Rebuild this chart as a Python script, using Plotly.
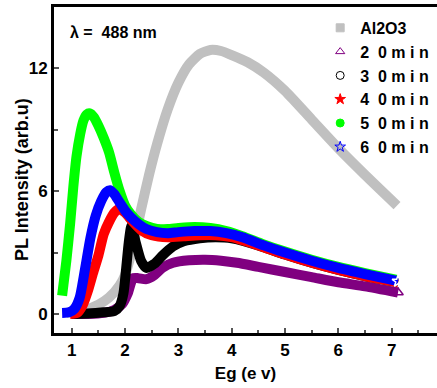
import plotly.graph_objects as go

# ---- data ----
al_x = [0.9, 1.2, 1.5, 1.7, 1.9, 2.0, 2.1, 2.2, 2.3, 2.45, 2.6, 2.8, 3.0, 3.2, 3.4, 3.6, 3.8, 4.0, 4.3, 4.6, 5.0, 5.5, 6.0, 6.5, 7.1]
al_y = [0.05, 0.15, 0.45, 0.8, 1.4, 1.9, 2.8, 3.9, 5.1, 6.8, 8.3, 10.0, 11.3, 12.2, 12.7, 12.9, 12.85, 12.65, 12.3, 11.8, 10.9, 9.5, 8.1, 6.8, 5.3]

m20_x = [1.0, 1.3, 1.6, 1.8, 1.95, 2.05, 2.15, 2.25, 2.4, 2.55, 2.7, 2.9, 3.2, 3.5, 3.8, 4.1, 4.5, 5.0, 5.5, 6.0, 6.5, 7.12]
m20_y = [0.0, 0.0, 0.05, 0.2, 0.5, 1.0, 1.75, 1.75, 1.7, 1.9, 2.25, 2.5, 2.62, 2.65, 2.6, 2.5, 2.3, 2.05, 1.8, 1.55, 1.35, 1.05]

m30_x = [1.0, 1.3, 1.6, 1.8, 1.9, 1.97, 2.02, 2.07, 2.12, 2.2, 2.3, 2.4, 2.55, 2.7, 2.9, 3.1, 3.4, 3.7, 4.0, 4.5, 5.0, 5.5, 6.0, 6.5, 7.12]
m30_y = [0.0, 0.02, 0.08, 0.15, 0.4, 1.0, 2.2, 3.5, 4.3, 3.5, 2.6, 2.25, 2.45, 2.85, 3.3, 3.55, 3.7, 3.75, 3.7, 3.35, 2.9, 2.5, 2.15, 1.85, 1.55]

m40_x = [0.97, 1.1, 1.2, 1.3, 1.4, 1.5, 1.6, 1.7, 1.8, 1.9, 2.0, 2.15, 2.3, 2.5, 2.8, 3.1, 3.4, 3.7, 4.0, 4.5, 5.0, 5.5, 6.0, 6.5, 7.12]
m40_y = [0.0, 0.05, 0.4, 1.1, 2.0, 2.85, 3.9, 4.5, 4.95, 5.15, 4.95, 4.5, 4.1, 3.85, 3.75, 3.8, 3.85, 3.85, 3.75, 3.35, 2.9, 2.5, 2.15, 1.85, 1.55]

m50_x = [0.82, 0.9, 0.97, 1.03, 1.09, 1.16, 1.22, 1.28, 1.34, 1.42, 1.5, 1.6, 1.7, 1.8, 1.9, 2.0, 2.1, 2.25, 2.4, 2.6, 2.8, 3.0, 3.3, 3.6, 3.9, 4.2, 4.6, 5.0, 5.5, 6.0, 6.5, 7.12]
m50_y = [0.9, 2.6, 4.4, 6.2, 7.7, 8.8, 9.45, 9.75, 9.8, 9.6, 9.2, 8.6, 7.9, 6.9, 6.0, 5.3, 4.9, 4.5, 4.3, 4.15, 4.15, 4.2, 4.25, 4.2, 4.05, 3.8, 3.4, 3.05, 2.65, 2.3, 2.0, 1.65]

m60_x = [0.82, 0.95, 1.05, 1.15, 1.25, 1.35, 1.45, 1.55, 1.65, 1.72, 1.8, 1.9, 2.0, 2.1, 2.25, 2.4, 2.6, 2.8, 3.0, 3.3, 3.6, 3.9, 4.2, 4.6, 5.0, 5.5, 6.0, 6.5, 7.12]
m60_y = [0.05, 0.08, 0.25, 0.8, 2.2, 3.7, 4.8, 5.5, 5.95, 6.05, 5.85, 5.45, 5.05, 4.75, 4.4, 4.15, 4.0, 3.95, 4.0, 4.05, 4.05, 3.95, 3.75, 3.35, 3.0, 2.6, 2.25, 1.95, 1.6]

NB = "\u00a0"
series_names = ["Al2O3"] + [f"{d}{NB}{NB}0{NB}m{NB}i{NB}n" for d in ["2", "3", "4", "5", "6"]]
series_colors = ["#C0C0C0", "#800080", "#000000", "#FF0000", "#00FF00", "#0000FF"]
legend_symbols = ["square", "triangle-up-open", "circle-open", "star", "circle", "star-open"]
series_x = [al_x, m20_x, m30_x, m40_x, m50_x, m60_x]
series_y = [al_y, m20_y, m30_y, m40_y, m50_y, m60_y]

FONT = "Liberation Sans, Arial, sans-serif"

fig = go.Figure()

for xs, ys, c in zip(series_x, series_y, series_colors):
    fig.add_trace(go.Scatter(x=xs, y=ys, mode="lines", line=dict(color=c, width=10, shape="spline", smoothing=0.6),
                             showlegend=False, hoverinfo="skip"))

# end markers (last data point of selected series)
fig.add_trace(go.Scatter(x=[m20_x[-1]], y=[m20_y[-1]], mode="markers", showlegend=False,
                         marker=dict(symbol="triangle-up-open", size=9, color="#800080", line=dict(width=1.5))))
fig.add_trace(go.Scatter(x=[m60_x[-1]], y=[m60_y[-1]], mode="markers", showlegend=False,
                         marker=dict(symbol="star-open", size=9, color="#FFFFFF", line=dict(width=1.5, color="#8080ff"))))

# legend-only entries
for name, c, s in zip(series_names, series_colors, legend_symbols):
    fig.add_trace(go.Scatter(x=[None], y=[None], mode="markers", name=name,
                             marker=dict(symbol=s, size=8, color=c, line=dict(width=1, color=c))))

fig.add_annotation(x=(68 - 54) / 383, y=(333 - 33) / 326, xref="paper", yref="paper",
                   text=f"<b>λ ={NB}{NB}488 nm</b>",
                   showarrow=False, xanchor="left", yanchor="middle",
                   font=dict(family=FONT, size=16, color="black"))

fig.add_annotation(x=(22 - 54) / 383, y=(333 - 180) / 326, xref="paper", yref="paper",
                   text="<b>PL Intensity (arb.u)</b>", textangle=-90,
                   showarrow=False, xanchor="center", yanchor="middle",
                   font=dict(family=FONT, size=18, color="black"))

fig.update_layout(
    width=437, height=388,
    margin=dict(l=54, r=0, t=7, b=55),
    plot_bgcolor="white", paper_bgcolor="white",
    font=dict(family=FONT, size=16, color="black"),
    legend=dict(x=0.695, y=0.988, xanchor="left", yanchor="top", bgcolor="rgba(0,0,0,0)",
                font=dict(family=FONT, size=16, color="black", weight="bold"),
                tracegroupgap=0),
    xaxis=dict(range=[0.668, 7.85], tickvals=[1, 2, 3, 4, 5, 6, 7], showgrid=False, zeroline=False,
               showline=True, linewidth=3, linecolor="black", mirror=True,
               ticks="inside", ticklen=5, tickwidth=1.5, tickcolor="#555",
               minor=dict(tickvals=[1.5, 2.5, 3.5, 4.5, 5.5, 6.5, 7.5], ticks="inside", ticklen=3, tickcolor="#555"),
               tickfont=dict(family=FONT, size=17, weight="bold"),
               title=dict(text="Eg (e v)", font=dict(family=FONT, size=17, weight="bold"), standoff=8)),
    yaxis=dict(range=[-0.93, 15], tickvals=[0, 6, 12], showgrid=False, zeroline=False,
               showline=True, linewidth=3, linecolor="black", mirror=False,
               ticks="inside", ticklen=5, tickwidth=1.5, tickcolor="#555",
               minor=dict(tickvals=[3, 9], ticks="inside", ticklen=4, tickcolor="#555"),
               tickfont=dict(family=FONT, size=17, weight="bold")),
)

fig.write_html("out.html")
